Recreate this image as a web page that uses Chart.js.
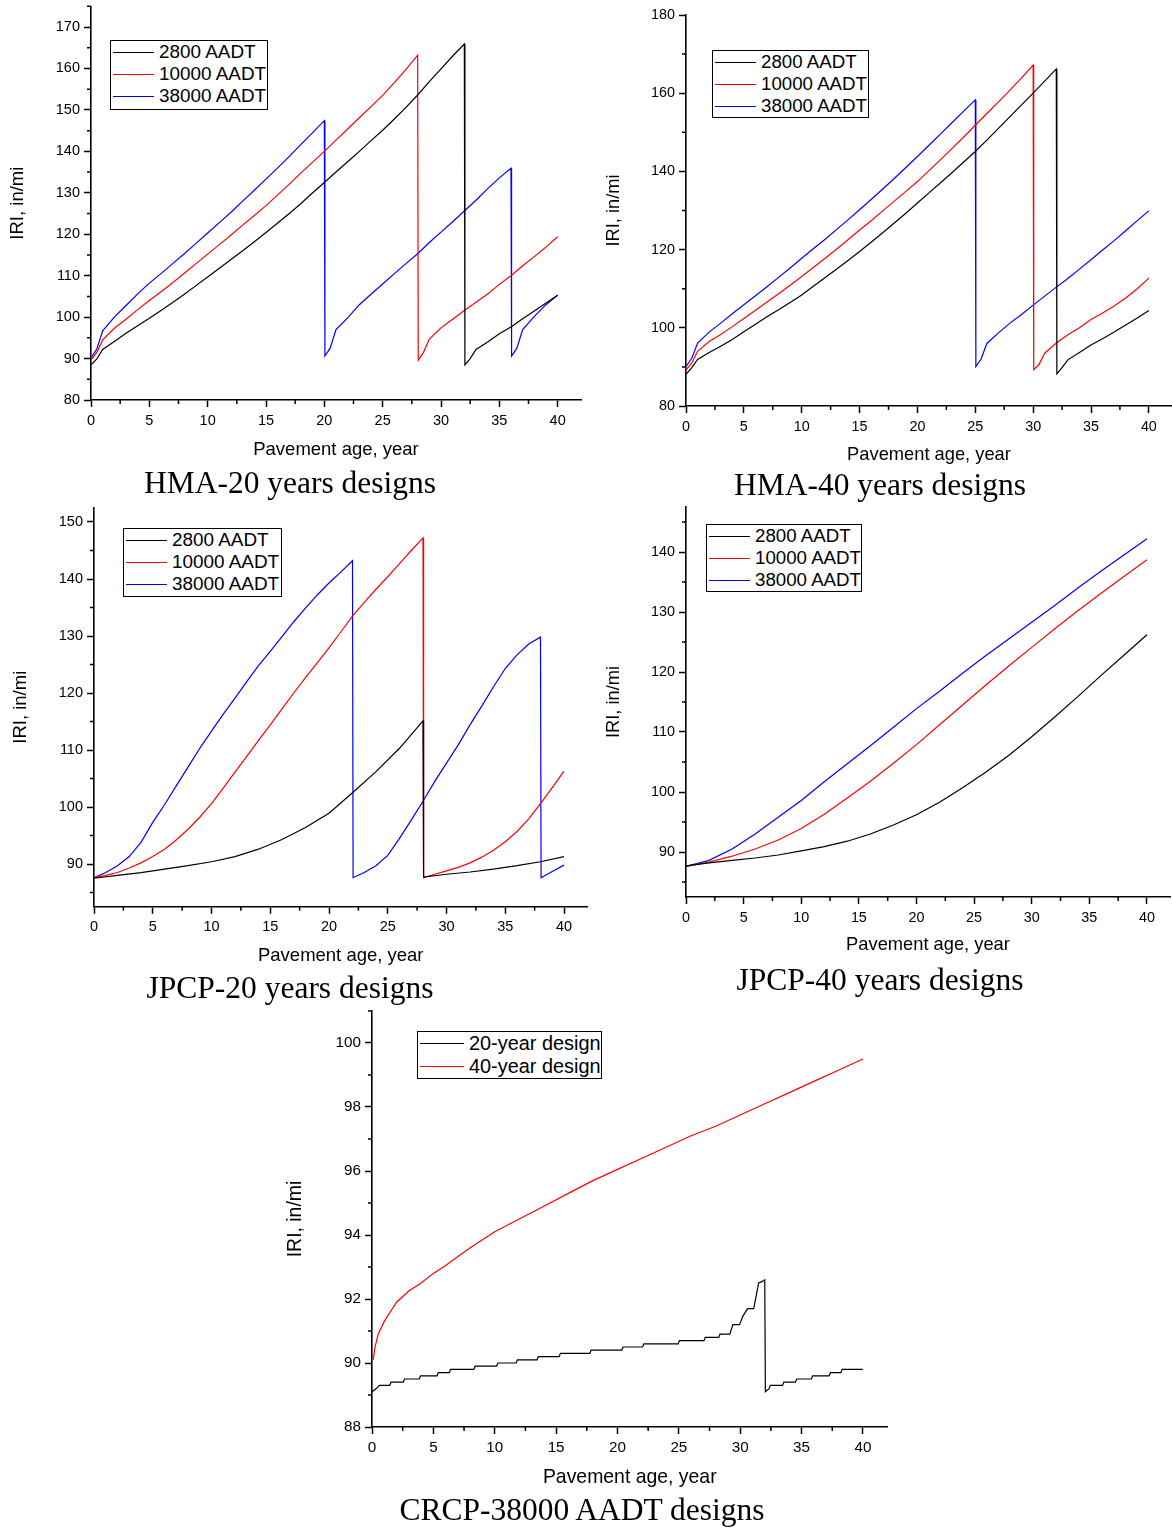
<!DOCTYPE html>
<html>
<head>
<meta charset="utf-8">
<script src="https://cdn.jsdelivr.net/npm/chart.js@4.4.0/dist/chart.umd.min.js"></script>
<style>
  body { margin: 0; background: #fff; width: 1172px; height: 1528px; position: relative; overflow: hidden;
         font-family: "Liberation Sans", Arial, sans-serif; color: #000; }
  canvas { position: absolute; }
  .legend { position: absolute; box-sizing: border-box; border: 1px solid #000; background: #fff; line-height: 1; }
  .legend .row { position: relative; white-space: nowrap; }
  .legend .swatch { position: absolute; left: 2px; height: 1px; }
  .legend .text { position: absolute; top: 50%; transform: translateY(-50%); }
  .caption { position: absolute; font-family: "Liberation Serif", "Times New Roman", serif; font-size: 31.5px;
             line-height: 36px; white-space: nowrap; transform: translateX(-50%); }
</style>
</head>
<body>
<script>
// ==== DATA ====
const xTicks = [0, 5, 10, 15, 20, 25, 30, 35, 40];
const xMinor = [2.5, 7.5, 12.5, 17.5, 22.5, 27.5, 32.5, 37.5];
const seriesColors = ["#000000", "#ff0000", "#0000ff"];
const aadtLabels = ["2800 AADT", "10000 AADT", "38000 AADT"];
const crcpLabels = ["20-year design", "40-year design"];

// HMA-20 years designs
const hma20Ticks = [80, 90, 100, 110, 120, 130, 140, 150, 160, 170];
const hma20Minor = [85, 95, 105, 115, 125, 135, 145, 155, 165, 175];
const hma20_2800 = [[0,88.5],[0.5,89.9],[1,92.2],[2,94.1],[3,96.1],[4,97.9],[5,99.7],[6,101.6],[7,103.5],[8,105.5],[9,107.6],[10,109.7],[11,111.8],[12,113.9],[13,116],[14,118.2],[15,120.4],[16,122.7],[17,125],[18,127.4],[19,130],[20,132.5],[21,135],[22,137.5],[23,140],[24,142.6],[25,145.1],[26,147.8],[27,150.6],[28,153.6],[29,156.8],[30,159.9],[31,163],[32,165.9],[32.05,88.5],[32.5,90],[33,92.2],[34,94],[35,96],[36,97.6],[37,99.6],[38,101.5],[39,103.4],[40,105.3]];
const hma20_10000 = [[0,89.7],[0.5,91.5],[1,94.5],[2,97.3],[3,99.5],[4,101.8],[5,104],[6,106.1],[7,108.3],[8,110.6],[9,112.9],[10,115.2],[11,117.5],[12,119.8],[13,122.2],[14,124.5],[15,126.9],[16,129.5],[17,132.1],[18,134.8],[19,137.4],[20,140],[21,142.7],[22,145.4],[23,148.1],[24,150.8],[25,153.5],[26,156.6],[27,159.8],[28,163.2],[28.05,89.6],[28.5,91.5],[29,94.7],[30,97.4],[31,99.5],[32,101.6],[33,103.6],[34,105.6],[35,107.9],[36,110],[37,112.4],[38,114.6],[39,116.9],[40,119.4]];
const hma20_38000 = [[0,90.2],[0.5,92.3],[1,96.7],[2,100],[3,102.8],[4,105.6],[5,108.2],[6,110.5],[7,112.9],[8,115.3],[9,117.8],[10,120.3],[11,122.8],[12,125.3],[13,128],[14,130.6],[15,133.3],[16,136],[17,138.8],[18,141.7],[19,144.5],[20,147.4],[20.05,90.6],[20.5,92.5],[21,97],[22,99.8],[23,103],[24,105.5],[25,108],[26,110.5],[27,112.9],[28,115.3],[29,118],[30,120.5],[31,123],[32,125.6],[33,128.2],[34,131],[35,133.6],[36,135.9],[36.05,90.6],[36.5,92.5],[37,97],[38,100.2],[39,103],[40,105.3]];

// HMA-40 years designs
const hma40Ticks = [80, 100, 120, 140, 160, 180];
const hma40Minor = [90, 110, 130, 150, 170];
const hma40_2800 = [[0,88.1],[0.5,89.8],[1,91.9],[2,93.7],[3,95.3],[4,97],[5,99],[6,100.9],[7,102.8],[8,104.6],[9,106.5],[10,108.4],[11,110.6],[12,112.8],[13,115],[14,117.2],[15,119.5],[16,121.9],[17,124.3],[18,126.8],[19,129.3],[20,131.9],[21,134.5],[22,137.1],[23,139.7],[24,142.4],[25,145.1],[26,148],[27,151],[28,154],[29,157],[30,160],[31,163.1],[32,166.2],[32.05,88.2],[32.5,89.8],[33,91.8],[34,93.7],[35,95.6],[36,97.2],[37,98.9],[38,100.7],[39,102.5],[40,104.4]];
const hma40_10000 = [[0,89.2],[0.5,91],[1,94],[2,96.5],[3,98.3],[4,100.3],[5,102.4],[6,104.5],[7,106.6],[8,108.7],[9,110.9],[10,113.1],[11,115.4],[12,117.7],[13,120.1],[14,122.5],[15,125],[16,127.4],[17,129.9],[18,132.4],[19,134.9],[20,137.4],[21,140.2],[22,143],[23,145.9],[24,148.8],[25,151.8],[26,154.8],[27,157.8],[28,160.8],[29,163.9],[30,167.2],[30.05,89.3],[30.5,90.6],[31,93.5],[32,96.1],[33,98.2],[34,100],[35,102.1],[36,103.8],[37,105.6],[38,107.6],[39,110],[40,112.7]];
const hma40_38000 = [[0,90.1],[0.5,92.2],[1,96.1],[2,98.9],[3,101.2],[4,103.6],[5,105.9],[6,108.2],[7,110.5],[8,112.9],[9,115.3],[10,117.8],[11,120.2],[12,122.6],[13,125.1],[14,127.6],[15,130.2],[16,132.8],[17,135.5],[18,138.2],[19,141],[20,143.8],[21,146.7],[22,149.6],[23,152.5],[24,155.4],[25,158.3],[25.05,90.1],[25.5,92],[26,96],[27,98.7],[28,101.2],[29,103.4],[30,105.8],[31,108.1],[32,110.4],[33,112.6],[34,115],[35,117.4],[36,119.9],[37,122.3],[38,124.8],[39,127.4],[40,129.9]];

// JPCP-20 years designs
const jpcp20Ticks = [90, 100, 110, 120, 130, 140, 150];
const jpcp20Minor = [85, 95, 105, 115, 125, 135, 145];
const jpcp20_2800 = [[0,87.5],[2,88],[4,88.5],[6,89.1],[8,89.7],[10,90.4],[12,91.3],[14,92.6],[16,94.3],[18,96.4],[20,98.9],[22,102.5],[24,106.2],[26,110.3],[28,115.1],[28.05,87.7],[30,88.2],[32,88.6],[34,89.1],[36,89.7],[38,90.4],[40,91.3]];
const jpcp20_10000 = [[0,87.6],[1,88],[2,88.5],[3,89.3],[4,90.2],[5,91.3],[6,92.6],[7,94.2],[8,96.1],[9,98.2],[10,100.6],[11,103.3],[12,106.1],[13,108.9],[14,111.7],[15,114.4],[16,117.2],[17,120],[18,122.7],[19,125.3],[20,127.9],[21,130.7],[22,133.5],[23,135.9],[24,138.2],[25,140.4],[26,142.7],[27,145],[28,147.2],[28.05,87.6],[29,88.2],[30,88.8],[31,89.4],[32,90.2],[33,91.2],[34,92.4],[35,93.9],[36,95.7],[37,97.9],[38,100.6],[39,103.4],[40,106.3]];
const jpcp20_38000 = [[0,87.6],[1,88.5],[2,89.7],[3,91.3],[4,93.8],[5,97.3],[6,100.4],[7,103.7],[8,107],[9,110.3],[10,113.3],[11,116.3],[12,119.1],[13,122],[14,124.8],[15,127.3],[16,129.9],[17,132.5],[18,134.9],[19,137.2],[20,139.3],[21,141.2],[22,143.2],[22.05,87.6],[23,88.5],[24,89.7],[25,91.5],[26,94.5],[27,97.7],[28,101],[29,104.5],[30,107.7],[31,110.9],[32,114.4],[33,117.7],[34,121.1],[35,124.3],[36,126.7],[37,128.6],[38,129.8],[38.05,87.6],[39,88.7],[40,89.8]];

// JPCP-40 years designs
const jpcp40Ticks = [90, 100, 110, 120, 130, 140];
const jpcp40Minor = [85, 95, 105, 115, 125, 135, 145];
const jpcp40_2800 = [[0,87.7],[2,88.2],[4,88.6],[6,89],[8,89.5],[10,90.2],[12,90.9],[14,91.8],[16,93],[18,94.5],[20,96.2],[22,98.3],[24,100.7],[26,103.3],[28,106.1],[30,109.2],[32,112.5],[34,115.9],[36,119.4],[38,122.8],[40,126.2]];
const jpcp40_10000 = [[0,87.6],[2,88.3],[4,89.3],[6,90.5],[8,92],[10,93.9],[12,96.3],[14,99],[16,101.8],[18,104.8],[20,107.9],[22,111.2],[24,114.5],[26,117.8],[28,121],[30,124.1],[32,127.2],[34,130.2],[36,133.1],[38,135.9],[40,138.7]];
const jpcp40_38000 = [[0,87.6],[2,88.6],[4,90.5],[6,93],[8,95.8],[10,98.6],[12,101.7],[14,104.7],[16,107.7],[18,110.8],[20,113.9],[22,116.8],[24,119.8],[26,122.7],[28,125.5],[30,128.3],[32,131.1],[34,134],[36,136.8],[38,139.5],[40,142.2]];

// CRCP-38000 AADT designs
const crcpTicks = [88, 90, 92, 94, 96, 98, 100];
const crcpMinor = [89, 91, 93, 95, 97, 99, 101];
const crcp_20yr = [[0,89.1],[0.35,89.2],[0.6,89.3],[1.45,89.3],[1.55,89.4],[2.55,89.4],[2.65,89.5],[3.85,89.5],[3.95,89.6],[5.3,89.6],[5.4,89.7],[6.3,89.7],[6.4,89.8],[8.3,89.8],[8.4,89.9],[10.15,89.9],[10.25,90],[11.75,90],[11.85,90.1],[13.45,90.1],[13.55,90.2],[15.25,90.2],[15.35,90.3],[17.75,90.3],[17.85,90.4],[20.35,90.4],[20.45,90.5],[22.05,90.5],[22.15,90.6],[24.95,90.6],[25.05,90.7],[27.05,90.7],[27.15,90.8],[28.25,90.8],[28.35,90.9],[29.15,90.9],[29.4,91.2],[29.95,91.2],[30.2,91.45],[30.6,91.7],[31.1,91.7],[31.3,92.1],[31.5,92.5],[31.8,92.55],[32,92.6],[32.05,89.1],[32.35,89.2],[32.45,89.3],[33.45,89.3],[33.55,89.4],[34.5,89.4],[34.6,89.5],[35.8,89.5],[35.9,89.6],[37.25,89.6],[37.35,89.7],[38.2,89.7],[38.3,89.8],[40,89.8]];
const crcp_40yr = [[0.1,90.1],[0.25,90.5],[0.5,90.9],[1,91.3],[1.5,91.6],[2,91.9],[3,92.25],[4,92.5],[5,92.8],[6,93.05],[7,93.33],[8,93.6],[9,93.85],[10,94.1],[12,94.5],[14,94.9],[16,95.3],[18,95.7],[20,96.05],[22,96.4],[24,96.75],[26,97.1],[28,97.4],[30,97.75],[32,98.1],[34,98.45],[36,98.8],[38,99.15],[40,99.5]];

// ==== SETUP ====
Chart.defaults.font.family = '"Liberation Sans", Arial, sans-serif';
Chart.defaults.color = "#000";

function minorTickPlugin(xs, ys) {
  return {
    id: "minorTicks",
    afterDraw(chart) {
      const { ctx } = chart;
      const x = chart.scales.x, y = chart.scales.y;
      ctx.save();
      ctx.strokeStyle = "#000";
      ctx.lineWidth = 1.5;
      ctx.beginPath();
      xs.forEach(v => {
        const px = x.getPixelForValue(v);
        ctx.moveTo(px, x.top); ctx.lineTo(px, x.top + 4);
      });
      ys.forEach(v => {
        const py = y.getPixelForValue(v);
        ctx.moveTo(y.right, py); ctx.lineTo(y.right - 4, py);
      });
      ctx.stroke();
      ctx.restore();
    }
  };
}

function makePanel(p) {
  const [cl, ct, cw, ch] = p.canvas;
  const [pl, pt, pr, pb] = p.plot;
  const k = p.scale;
  const titleSize = 18.5 * k;
  const half = titleSize * 1.2 / 2;

  const canvas = document.createElement("canvas");
  canvas.width = cw; canvas.height = ch;
  canvas.style.left = cl + "px"; canvas.style.top = ct + "px";
  canvas.style.width = cw + "px"; canvas.style.height = ch + "px";
  document.body.appendChild(canvas);

  new Chart(canvas, {
    type: "line",
    data: {
      datasets: p.series.map((s, i) => ({
        label: p.labels[i],
        data: s.map(([x, y]) => ({ x, y })),
        borderColor: seriesColors[i],
        borderWidth: 1.2,
        pointRadius: 0,
        fill: false,
        tension: 0
      }))
    },
    options: {
      responsive: false,
      animation: false,
      devicePixelRatio: 1,
      layout: { padding: { left: 0, bottom: 0, top: pt - ct, right: cl + cw - pr } },
      plugins: { legend: { display: false }, tooltip: { enabled: false } },
      scales: {
        x: {
          type: "linear", min: 0, max: 42,
          afterBuildTicks: s => { s.ticks = xTicks.map(v => ({ value: v })); },
          afterFit: s => { s.height = ct + ch - pb; s.paddingLeft = 0; s.paddingRight = 0; },
          grid: { drawOnChartArea: false, tickLength: 7, tickWidth: 1.5, tickColor: "#000" },
          border: { display: true, color: "#000", width: 1.6 },
          ticks: { padding: 5, autoSkip: false, maxRotation: 0, font: { size: 14.5 * k } },
          title: { display: true, text: "Pavement age, year", font: { size: titleSize },
                   padding: { top: 0, bottom: ct + ch - p.xTitleY - half } }
        },
        y: {
          type: "linear", min: p.yRange[0], max: p.yRange[1],
          afterBuildTicks: s => { s.ticks = p.yTicks.map(v => ({ value: v })); },
          afterFit: s => { s.width = pl - cl; s.paddingTop = 0; s.paddingBottom = 0; },
          grid: { drawOnChartArea: false, tickLength: 7, tickWidth: 1.5, tickColor: "#000" },
          border: { display: true, color: "#000", width: 1.6 },
          ticks: { padding: 4, autoSkip: false, font: { size: 14.5 * k } },
          title: { display: true, text: "IRI, in/mi", font: { size: titleSize },
                   padding: { top: p.yTitleX - cl - half, bottom: 0 } }
        }
      }
    },
    plugins: [minorTickPlugin(xMinor, p.yMinor)]
  });

  // legend box, rows of whole-pixel height
  const [ll, lt, lw, lh] = p.legend;
  const rowH = Math.floor((lh - 2) / p.labels.length);
  const box = document.createElement("div");
  box.className = "legend";
  box.style.cssText = `left:${ll}px;top:${lt}px;width:${lw}px;height:${lh}px;font-size:${p.legendFont}px`;
  p.labels.forEach((label, i) => {
    const row = document.createElement("div");
    row.className = "row";
    row.style.height = rowH + "px";
    row.innerHTML =
      `<span class="swatch" style="top:${Math.floor(rowH / 2)}px;width:${p.swatch[0]}px;background:${seriesColors[i]}"></span>` +
      `<span class="text" style="left:${2 + p.swatch[0] + p.swatch[1]}px">${label}</span>`;
    box.appendChild(row);
  });
  document.body.appendChild(box);

  // caption under the panel
  const cap = document.createElement("div");
  cap.className = "caption";
  cap.textContent = p.caption;
  cap.style.left = p.captionAt[0] + "px";
  cap.style.top = (p.captionAt[1] - 18) + "px";
  document.body.appendChild(cap);
}

// ==== PANELS ====
const panels = [
  { caption: "HMA-20 years designs", captionAt: [290, 483], scale: 1,
    canvas: [0, 0, 590, 470], plot: [91, 6.3, 581, 400], xTitleY: 450, yTitleX: 18,
    yRange: [80, 175], yTicks: hma20Ticks, yMinor: hma20Minor,
    labels: aadtLabels, series: [hma20_2800, hma20_10000, hma20_38000],
    legend: [110, 40, 158, 70], legendFont: 18.9, swatch: [41, 5] },
  { caption: "HMA-40 years designs", captionAt: [880, 485], scale: 0.99,
    canvas: [590, 0, 582, 470], plot: [686, 15, 1172, 406], xTitleY: 455, yTitleX: 614,
    yRange: [80, 180], yTicks: hma40Ticks, yMinor: hma40Minor,
    labels: aadtLabels, series: [hma40_2800, hma40_10000, hma40_38000],
    legend: [712, 50, 157, 68], legendFont: 18.7, swatch: [41, 5] },
  { caption: "JPCP-20 years designs", captionAt: [290, 988], scale: 1,
    canvas: [0, 500, 590, 480], plot: [94, 507.75, 587.5, 906.75], xTitleY: 956, yTitleX: 21,
    yRange: [82.5, 152.5], yTicks: jpcp20Ticks, yMinor: jpcp20Minor,
    labels: aadtLabels, series: [jpcp20_2800, jpcp20_10000, jpcp20_38000],
    legend: [123, 528, 159, 69], legendFont: 18.9, swatch: [41, 5] },
  { caption: "JPCP-40 years designs", captionAt: [880, 980], scale: 0.99,
    canvas: [590, 500, 582, 470], plot: [686, 507, 1170, 897], xTitleY: 945, yTitleX: 614,
    yRange: [82.5, 147.5], yTicks: jpcp40Ticks, yMinor: jpcp40Minor,
    labels: aadtLabels, series: [jpcp40_2800, jpcp40_10000, jpcp40_38000],
    legend: [706, 524, 156, 68], legendFont: 18.7, swatch: [41, 5] },
  { caption: "CRCP-38000 AADT designs", captionAt: [582, 1510], scale: 1.05,
    canvas: [280, 1005, 620, 490], plot: [372, 1011, 887.5, 1427], xTitleY: 1478, yTitleX: 296,
    yRange: [88, 101], yTicks: crcpTicks, yMinor: crcpMinor,
    labels: crcpLabels, series: [crcp_20yr, crcp_40yr],
    legend: [417, 1031, 185, 48], legendFont: 19.9, swatch: [44, 5] }
];

panels.forEach(makePanel);
</script>
</body>
</html>
